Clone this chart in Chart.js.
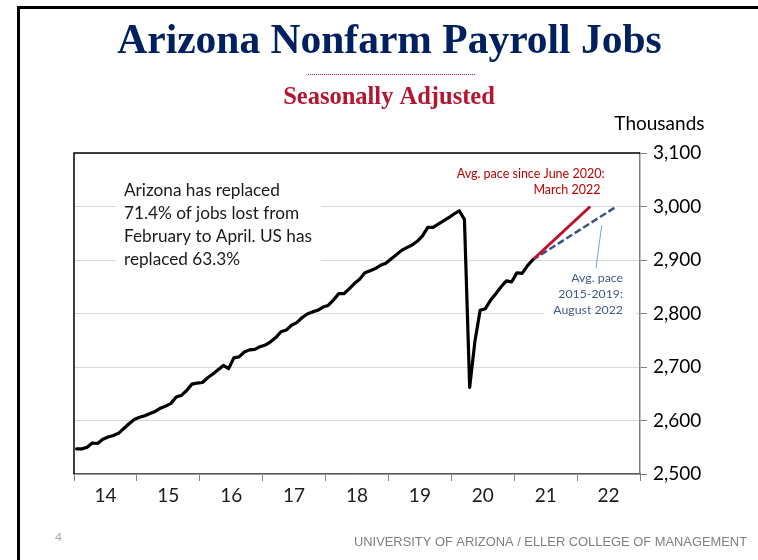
<!DOCTYPE html>
<html><head><meta charset="utf-8">
<script src="https://cdn.jsdelivr.net/npm/chart.js@4.4.1/dist/chart.umd.min.js"></script>
<style>html,body{margin:0;padding:0;background:#fff;overflow:hidden}canvas{display:block}</style>
</head><body><canvas id="c" width="758" height="560"></canvas>
<script>
// ---- data ----
const yearLabels = ['14','15','16','17','18','19','20','21','22'];
const yMin = 2500, yMax = 3100, yStep = 100;
// Arizona nonfarm payroll jobs (thousands), monthly Jan 2014 .. Apr 2021
const payroll = [
  2547,2547,2550,2558,2557,2565,2569,2572,2576,2585,2594,2602,
  2606,2609,2613,2617,2623,2627,2632,2644,2647,2656,2668,2670,
  2671,2680,2687,2695,2703,2697,2717,2719,2728,2732,2733,2738,
  2741,2747,2755,2766,2769,2778,2783,2792,2799,2803,2806,2812,
  2815,2825,2837,2837,2846,2856,2864,2876,2880,2884,2890,2894,
  2902,2910,2918,2923,2928,2935,2945,2961,2961,2967,2973,2979,
  2986,2992,2976,2662,2748,2806,2809,2825,2837,2850,2861,2859,
  2876,2875,2889,2900
];
// projections: month index (0 = Jan 2014) and value
const recentPaceMonths = [87, 98];   // Apr 2021 -> Mar 2022
const recentPaceValues = [2900, 3000];
const histPaceMonths = [87, 103];    // Apr 2021 -> Aug 2022
const histPaceValues = [2900, 3000];

const noteLeft = ['Arizona has replaced','71.4% of jobs lost from','February to April. US has','replaced 63.3%'];
const noteRed = ['Avg. pace since June 2020:','March 2022'];
const noteBlue = ['Avg. pace','2015-2019:','August 2022'];

const toPts = (ms, vs) => ms.map((m, i) => ({x: m + 0.5, y: vs[i]}));
const mainPts = payroll.map((v, i) => ({x: i + 0.5, y: v}));

const SANS = 'Lato, "Open Sans", sans-serif';

const slide = {
  id: 'slide',
  beforeDraw(chart) {
    const ctx = chart.ctx;
    ctx.save();
    ctx.fillStyle = '#fff';
    ctx.fillRect(0, 0, chart.width, chart.height);
    ctx.fillStyle = '#000';
    ctx.fillRect(17, 6, 3, 554);
    ctx.fillRect(17, 6, 741, 3);
    // title
    ctx.textAlign = 'center';
    ctx.textBaseline = 'alphabetic';
    ctx.fillStyle = '#002060';
    ctx.font = 'bold 41.5px "Liberation Serif", serif';
    ctx.fillText('Arizona Nonfarm Payroll Jobs', 389.5, 53, 545);
    // dotted rule
    ctx.strokeStyle = '#C0143C';
    ctx.lineWidth = 1;
    ctx.setLineDash([1, 1]);
    ctx.beginPath(); ctx.moveTo(308, 74.5); ctx.lineTo(475, 74.5); ctx.stroke();
    ctx.setLineDash([]);
    ctx.fillStyle = '#B5152F';
    ctx.font = 'bold 24.5px "Liberation Serif", serif';
    ctx.fillText('Seasonally Adjusted', 389, 104, 213);
    // units
    ctx.textAlign = 'right';
    ctx.fillStyle = '#000';
    ctx.font = '19px ' + SANS;
    ctx.fillText('Thousands', 704.5, 129.5);
    // footer
    ctx.textAlign = 'left';
    ctx.fillStyle = '#A6A6A6';
    ctx.font = '12px ' + SANS;
    ctx.fillText('4', 55, 540.5);
    ctx.fillStyle = '#7F7F7F';
    ctx.font = '13.5px "Liberation Sans Narrow", "Liberation Sans", sans-serif';
    ctx.fillText('UNIVERSITY OF ARIZONA / ELLER COLLEGE OF MANAGEMENT', 354, 546, 393);
    ctx.restore();
  },
  beforeDatasetsDraw(chart) {
    const ctx = chart.ctx, a = chart.chartArea;
    ctx.save();
    // white text boxes covering gridlines
    ctx.fillStyle = '#fff';
    ctx.fillRect(116, 172, 205, 104);
    ctx.fillRect(544, 266, 92, 54);
    // plot frame (left + top)
    ctx.strokeStyle = '#000';
    ctx.lineWidth = 1.5;
    ctx.beginPath();
    ctx.moveTo(a.left, a.bottom); ctx.lineTo(a.left, a.top); ctx.lineTo(a.right, a.top);
    ctx.stroke();
    ctx.restore();
  },
  afterDatasetsDraw(chart) {
    const ctx = chart.ctx, xs = chart.scales.x, ys = chart.scales.y;
    ctx.save();
    // leader line for blue note
    ctx.strokeStyle = '#6FA8DC';
    ctx.lineWidth = 1;
    ctx.beginPath();
    ctx.moveTo(xs.getPixelForValue(100.7), ys.getPixelForValue(2965));
    ctx.lineTo(xs.getPixelForValue(99.6), ys.getPixelForValue(2885));
    ctx.stroke();
    ctx.textBaseline = 'alphabetic';
    // left note
    ctx.textAlign = 'left';
    ctx.fillStyle = '#1a1a1a';
    ctx.font = '17.2px ' + SANS;
    noteLeft.forEach((t, i) => ctx.fillText(t, 124, 196 + i * 22.9));
    // red note
    ctx.textAlign = 'right';
    ctx.fillStyle = '#C00000';
    ctx.font = '12.5px ' + SANS;
    ctx.fillText(noteRed[0], 604.5, 177.5);
    ctx.fillText(noteRed[1], 600.5, 193.5);
    // blue note
    ctx.fillStyle = '#44598A';
    ctx.font = '12.3px ' + SANS;
    noteBlue.forEach((t, i) => ctx.fillText(t, 623, 281.5 + i * 16.3));
    ctx.restore();
  }
};

new Chart(document.getElementById('c'), {
  type: 'line',
  data: {
    datasets: [
      {data: mainPts, borderColor: '#000', borderWidth: 3.2, pointRadius: 0, tension: 0, borderJoinStyle: 'round', borderCapStyle: 'round', order: 1},
      {data: toPts(histPaceMonths, histPaceValues), borderColor: '#3B5486', borderWidth: 2.5, borderDash: [7, 3], pointRadius: 0, order: 3},
      {data: toPts(recentPaceMonths, recentPaceValues), borderColor: '#BE1028', borderWidth: 3, pointRadius: 0, order: 2}
    ]
  },
  options: {
    responsive: false,
    animation: false,
    devicePixelRatio: 1,
    layout: {padding: {left: 74, top: 153, right: 0, bottom: 0}},
    plugins: {legend: {display: false}, tooltip: {enabled: false}, title: {display: false}},
    scales: {
      x: {
        type: 'linear', min: 0, max: yearLabels.length * 12,
        afterFit: s => { s.height = 86; },
        grid: {
          drawOnChartArea: false, drawTicks: true, tickLength: 7, lineWidth: 1,
          tickColor: c => (c.tick && c.tick.value % 12 === 0) ? '#808080' : 'rgba(0,0,0,0)'
        },
        border: {color: '#595959', width: 1.5},
        ticks: {
          stepSize: 6, autoSkip: false, maxRotation: 0, padding: 3,
          color: '#1a1a1a', font: {family: SANS, size: 19},
          callback: v => (v % 12 === 6) ? yearLabels[(v - 6) / 12] : ''
        }
      },
      y: {
        position: 'right', min: yMin, max: yMax,
        afterFit: s => { s.width = 118; },
        grid: {color: '#D9D9D9', lineWidth: 1, drawTicks: true, tickLength: 7, tickColor: '#808080'},
        border: {color: '#808080', width: 1.5},
        ticks: {
          stepSize: yStep, padding: 6, color: '#000', font: {family: SANS, size: 19},
          callback: v => v.toLocaleString('en-US')
        }
      }
    }
  },
  plugins: [slide]
});
</script>
</body></html>
